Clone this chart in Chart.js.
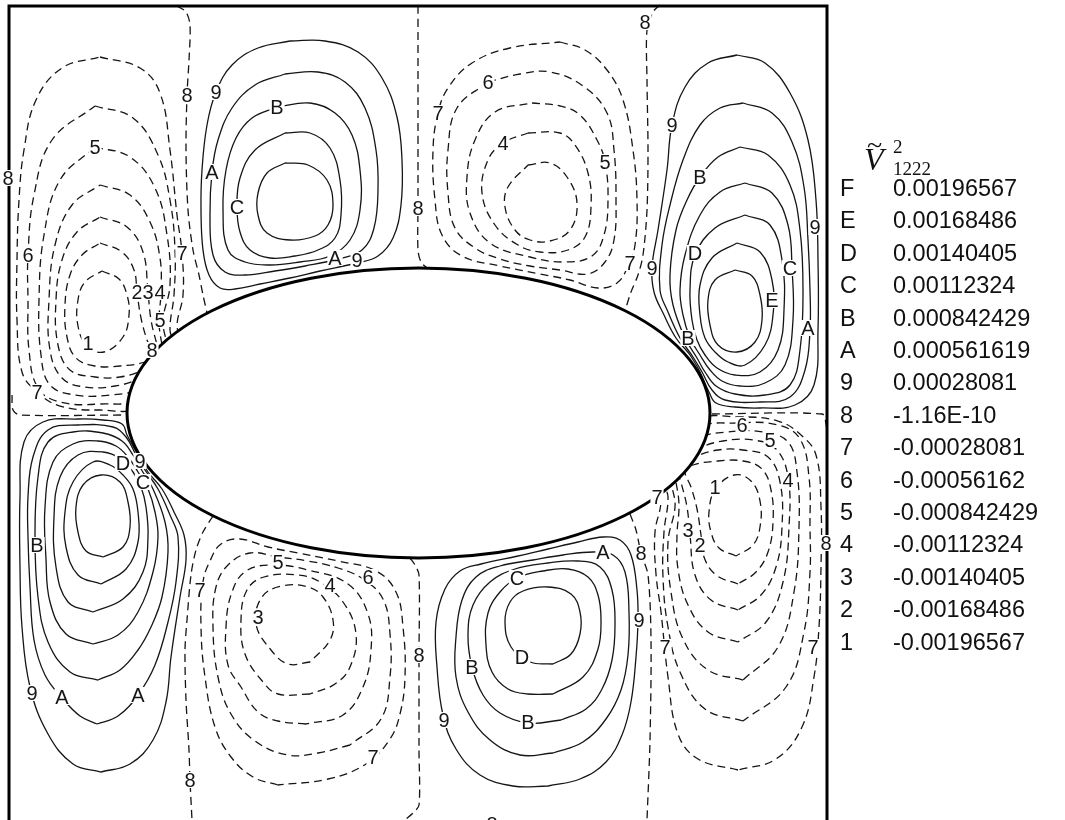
<!DOCTYPE html>
<html>
<head>
<meta charset="utf-8">
<script src="https://cdn.jsdelivr.net/npm/chart.js@4.4.1/dist/chart.umd.min.js"></script>
<style>
  html, body { margin: 0; padding: 0; background: #fff; }
  #wrap { position: relative; width: 1065px; height: 820px; overflow: hidden; background: #fff; }
  #plot { position: absolute; left: 0; top: 0; }
  .key { position: absolute; font-family: "Liberation Sans", Arial, sans-serif; font-size: 23.5px; color: #111; line-height: 24px; white-space: nowrap; }
  .ttl { position: absolute; font-family: "Liberation Serif", "DejaVu Serif", serif; color: #111; line-height: 1; }
</style>
</head>
<body>
<div id="wrap">
  <canvas id="plot" width="1065" height="820"></canvas>
  <div id="legend"></div>
</div>
<script>
// ---- contour levels (key letter/digit and level value) ----
const levelKeys   = ['F','E','D','C','B','A','9','8','7','6','5','4','3','2','1'];
const levelValues = ['0.00196567','0.00168486','0.00140405','0.00112324','0.000842429','0.000561619','0.00028081',
                     '-1.16E-10','-0.00028081','-0.00056162','-0.000842429','-0.00112324','-0.00140405','-0.00168486','-0.00196567'];

// ---- contour paths, grouped by the lobe they belong to (plot coordinates) ----
// upper-left outer lobe, negative levels
const nwOuter = {
  '7': [[100,57],[140,68],[160,93],[170,150],[177,215],[182,253],[183,295],[177,325],[180,345],[140,406],[100,410],[60,406],[37,392],[22,372],[17,320],[17,260],[19,200],[24,150],[36,100],[62,68],[100,57]],
  '6': [[95,106],[133,118],[158,155],[170,200],[175,250],[174,295],[170,330],[175,350],[140,398],[100,404],[60,402],[38,388],[29,350],[28,300],[28,255],[34,195],[52,140],[95,106]],
  '5': [[95,147],[130,157],[155,188],[167,235],[170,285],[163,320],[166,340],[170,355],[140,388],[110,395],[75,395],[50,385],[41,355],[39,300],[44,235],[60,180],[95,147]],
  '4': [[100,185],[130,195],[150,222],[160,258],[161,292],[159,322],[162,345],[165,360],[140,378],[115,386],[85,387],[62,378],[50,350],[49,300],[55,245],[72,205],[100,185]],
  '3': [[100,217],[127,227],[143,252],[148,292],[151,320],[157,345],[160,358],[143,370],[120,377],[95,377],[70,370],[58,345],[56,300],[62,260],[77,232],[100,217]],
  '2': [[100,243],[122,252],[134,270],[137,292],[141,318],[147,340],[153,356],[145,362],[120,366],[95,366],[76,358],[67,337],[65,305],[70,275],[82,255],[100,243]],
  '1': [[102,271],[119,279],[127,295],[129,315],[123,337],[104,352],[87,346],[78,326],[78,300],[85,282],[102,271]]
};
// upper-left inner lobe, positive levels
const nwInner = {
  '9': [[290,41],[325,41],[358,52],[382,78],[397,117],[402,160],[401,205],[393,238],[378,256],[357,263],[320,271],[290,278],[260,284],[235,289],[220,288],[209,275],[203,250],[201,210],[202,170],[207,125],[216,92],[232,65],[258,48],[290,41]],
  'A': [[285,74],[318,72],[345,82],[365,108],[376,150],[378,190],[374,228],[362,250],[338,259],[305,266],[275,271],[245,275],[225,272],[213,255],[210,215],[212,172],[218,140],[232,108],[255,85],[285,74]],
  'B': [[277,107],[310,103],[335,113],[352,135],[360,170],[360,210],[350,240],[330,256],[300,262],[270,265],[245,262],[228,250],[223,210],[226,170],[236,138],[252,118],[277,107]],
  'C': [[285,133],[310,133],[330,148],[340,180],[341,215],[335,238],[318,250],[295,256],[270,258],[250,250],[240,232],[237,207],[240,178],[255,150],[285,133]],
  'D': [[285,163],[308,165],[327,180],[333,205],[328,225],[315,236],[290,240],[267,233],[258,215],[258,193],[267,173],[285,163]]
};
// upper-right inner lobe, negative levels
const neInner = {
  '7': [[560,42],[585,50],[607,70],[623,100],[633,150],[637,200],[635,245],[628,266],[617,283],[598,288],[570,280],[540,274],[500,266],[462,256],[442,235],[435,200],[433,150],[438,113],[448,88],[472,63],[510,48],[560,42]],
  '6': [[488,82],[520,74],[550,72],[583,86],[607,113],[614,150],[616,200],[614,240],[605,262],[588,274],[560,270],[530,266],[500,259],[475,248],[455,228],[448,193],[448,150],[457,108],[488,82]],
  '5': [[532,103],[560,106],[580,115],[597,140],[605,162],[608,200],[604,235],[592,256],[565,262],[530,257],[490,243],[470,213],[467,177],[475,140],[495,112],[532,103]],
  '4': [[528,133],[560,133],[575,145],[588,173],[591,207],[585,237],[568,250],[540,252],[518,245],[495,225],[482,193],[488,160],[503,143],[528,133]],
  '3': [[528,165],[550,163],[567,177],[577,203],[570,230],[550,241],[530,240],[515,230],[505,207],[508,187],[528,165]]
};
// upper-right outer lobe, positive levels
const neOuter = {
  '9': [[737,55],[765,63],[790,93],[808,140],[816,200],[818,260],[818,330],[814,385],[795,405],[760,408],[735,407],[716,403],[709,392],[700,372],[690,355],[676,338],[664,315],[654,292],[652,267],[658,230],[667,170],[672,125],[685,87],[708,63],[737,55]],
  'A': [[743,103],[772,113],[792,142],[804,187],[808,240],[810,290],[810,330],[805,370],[790,397],[760,402],[725,400],[712,390],[702,372],[693,357],[680,338],[668,312],[660,290],[662,245],[670,205],[683,160],[700,125],[720,108],[743,103]],
  'B': [[740,147],[768,155],[790,185],[800,230],[803,290],[800,350],[790,385],[765,395],[735,394],[716,386],[705,372],[697,358],[685,338],[673,305],[670,275],[676,230],[687,200],[700,177],[718,157],[740,147]],
  'C': [[745,183],[772,193],[788,225],[792,268],[793,320],[785,365],[765,383],[740,386],[722,381],[710,370],[700,355],[690,338],[683,315],[680,290],[685,255],[700,215],[720,192],[745,183]],
  'D': [[745,215],[770,225],[782,260],[784,310],[778,350],[760,372],[735,375],[717,368],[705,355],[697,340],[692,320],[690,290],[695,255],[715,228],[745,215]],
  'E': [[737,243],[760,252],[772,280],[773,315],[765,345],[745,365],[728,362],[715,352],[705,338],[700,315],[700,285],[712,258],[737,243]],
  'F': [[735,270],[752,276],[760,295],[762,320],[755,342],[737,352],[718,345],[710,325],[708,300],[715,280],[735,270]]
};
// lower-left outer lobe, positive levels
const swOuter = {
  '9': [[101,772],[73,764],[48,734],[30,687],[22,627],[20,567],[20,497],[24,442],[43,422],[78,419],[103,420],[122,424],[127,435],[138,455],[148,472],[162,489],[174,512],[184,535],[186,560],[180,597],[171,657],[166,702],[153,740],[130,764],[101,772]],
  'A': [[97,724],[80,716],[62,698],[45,675],[34,640],[30,587],[28,537],[28,497],[33,457],[48,430],[78,425],[113,427],[126,437],[136,455],[145,470],[158,489],[170,515],[178,537],[176,582],[168,622],[155,665],[138,695],[118,716],[97,724]],
  'B': [[98,680],[70,672],[48,642],[38,597],[35,537],[38,477],[48,442],[73,432],[103,433],[122,441],[133,455],[141,469],[153,489],[165,522],[168,552],[162,597],[151,627],[138,650],[120,670],[98,680]],
  'C': [[93,644],[66,634],[50,602],[46,559],[45,507],[53,462],[73,444],[98,441],[116,446],[128,457],[138,472],[148,489],[155,512],[158,537],[153,572],[138,612],[118,635],[93,644]],
  'D': [[93,612],[68,602],[56,567],[54,517],[60,477],[78,455],[103,452],[121,459],[133,472],[141,487],[146,507],[148,537],[143,572],[123,599],[93,612]],
  'E': [[101,584],[78,575],[66,547],[65,512],[73,482],[93,462],[110,465],[123,475],[133,489],[138,512],[138,542],[126,569],[101,584]],
  'F': [[103,557],[86,551],[78,532],[76,507],[83,485],[101,475],[120,482],[128,502],[130,527],[123,547],[103,557]]
};
// lower-left inner lobe, negative levels
const swInner = {
  '7': [[278,785],[253,777],[231,757],[215,727],[205,677],[201,627],[203,582],[210,561],[221,544],[240,539],[268,547],[298,553],[338,561],[376,571],[396,592],[403,627],[405,677],[400,714],[390,739],[366,764],[328,779],[278,785]],
  '6': [[350,745],[318,753],[288,755],[255,741],[231,714],[218,677],[213,627],[216,587],[228,565],[250,553],[278,557],[308,561],[338,568],[363,579],[383,599],[390,634],[390,677],[381,719],[350,745]],
  '5': [[306,724],[278,721],[258,712],[241,687],[228,665],[226,627],[232,592],[246,571],[273,565],[308,570],[348,584],[368,614],[371,650],[363,687],[343,715],[306,724]],
  '4': [[310,694],[278,694],[263,682],[245,654],[241,620],[247,590],[264,577],[298,575],[320,582],[343,602],[356,634],[350,667],[335,684],[310,694]],
  '3': [[310,662],[288,664],[271,650],[256,624],[262,597],[282,586],[308,587],[323,597],[333,620],[330,640],[310,662]]
};
// lower-right inner lobe, positive levels
const seInner = {
  '9': [[548,786],[513,786],[480,775],[456,749],[443,715],[437,667],[436,622],[445,589],[460,571],[481,564],[518,556],[548,549],[578,542],[603,537],[620,540],[631,555],[637,590],[638,620],[636,657],[631,702],[622,735],[606,762],[580,779],[548,786]],
  'A': [[553,753],[520,755],[490,740],[468,712],[456,677],[456,637],[462,600],[476,577],[500,566],[533,560],[563,555],[593,552],[613,555],[625,572],[629,612],[628,655],[621,690],[606,719],[583,742],[553,753]],
  'B': [[561,720],[528,723],[500,713],[483,695],[472,667],[468,635],[473,605],[490,582],[515,569],[548,563],[578,561],[600,567],[612,590],[615,625],[612,660],[602,689],[586,709],[561,720]],
  'C': [[553,694],[528,694],[508,689],[492,672],[486,645],[488,613],[500,592],[517,578],[543,571],[568,569],[588,577],[598,595],[601,620],[598,649],[583,677],[553,694]],
  'D': [[553,664],[530,662],[511,647],[505,622],[510,602],[523,591],[548,587],[571,594],[580,612],[580,634],[571,654],[553,664]]
};
// lower-right outer lobe, negative levels
const seOuter = {
  '7': [[738,770],[698,759],[678,734],[668,677],[661,612],[656,574],[655,532],[661,502],[658,482],[698,421],[738,417],[778,421],[801,435],[816,455],[821,507],[821,567],[819,627],[814,677],[802,727],[776,759],[738,770]],
  '6': [[743,721],[705,709],[680,672],[668,627],[663,577],[664,532],[668,497],[663,477],[698,429],[738,423],[778,425],[800,439],[809,477],[810,527],[810,572],[804,632],[786,687],[743,721]],
  '5': [[743,680],[708,670],[683,639],[671,592],[668,542],[675,507],[672,487],[668,472],[698,439],[728,432],[763,432],[788,442],[797,472],[799,527],[794,592],[778,647],[743,680]],
  '4': [[738,642],[708,632],[688,605],[678,569],[677,535],[679,505],[676,482],[673,467],[698,449],[723,441],[753,440],[776,449],[788,477],[789,527],[783,582],[766,622],[738,642]],
  '3': [[738,610],[711,600],[695,575],[690,535],[687,507],[681,482],[678,469],[695,457],[718,450],[743,450],[768,457],[780,482],[782,527],[776,567],[761,595],[738,610]],
  '2': [[738,584],[716,575],[704,557],[701,535],[697,509],[691,487],[685,471],[693,465],[718,461],[743,461],[762,469],[771,490],[773,522],[768,552],[756,572],[738,584]],
  '1': [[736,556],[719,548],[711,532],[709,512],[715,490],[734,475],[751,481],[760,501],[760,527],[753,545],[736,556]]
};
// zero-level (key 8) lines
const zeroLines = [
  [[177,6],[186,12],[190,25],[189,60],[187,95],[186,150],[188,210],[193,250],[199,275],[203,295],[207,313]],
  [[418,6],[418,100],[418,208],[418,250],[421,262],[427,268]],
  [[660,5],[653,12],[647,30],[647,80],[648,150],[647,210],[643,255],[638,275],[631,292],[625,311]],
  [[712,414],[822,414],[826,424],[827,440]],
  [[12,395],[13,410],[20,415],[127,415]],
  [[213,516],[203,532],[196,550],[191,575],[187,620],[185,650],[186,700],[189,750],[190,780],[192,820]],
  [[410,558],[415,565],[419,575],[419,655],[419,750],[419,805],[413,813],[405,820]],
  [[630,514],[636,530],[641,553],[648,575],[651,640],[650,740],[647,820]]
];
// in-line level keys: [text, x, y]
const contourLabels = [
  ['8',8,178],['8',187,95],['5',95,147],['6',28,255],['7',182,253],['2',137,292],['3',148,292],['4',160,292],['5',160,320],['1',88,343],['8',152,350],['7',37,392],
  ['9',216,92],['B',277,107],['A',212,172],['C',237,207],['A',335,258],['9',357,260],
  ['8',418,208],
  ['6',488,82],['7',438,113],['4',503,143],['5',605,162],['7',630,263],
  ['8',645,22],['9',672,125],['B',700,177],['9',815,227],['D',695,253],['C',790,268],['9',652,268],['E',772,300],['A',808,328],['B',688,338],
  ['D',123,463],['9',140,461],['C',143,482],['B',37,545],['9',32,693],['A',62,697],['A',138,695],
  ['5',278,562],['6',368,577],['4',330,585],['7',200,590],['3',258,617],['7',373,757],['8',190,780],
  ['8',419,655],['8',492,824],
  ['A',603,552],['C',517,578],['D',522,657],['B',472,667],['B',528,722],['9',444,720],['9',639,620],
  ['6',742,425],['5',770,440],['4',788,480],['1',715,487],['7',657,497],['3',688,530],['2',700,545],['8',641,553],['8',826,543],['7',665,647],['7',813,647]
];

// elliptical body and the plot frame, in plot coordinates
const BODY = { cx: 418.5, cy: 413, rx: 291.5, ry: 145 };
const FRAME = { left: 9, right: 827, top: 6, bottom: 820 };

// ---- build datasets ----
const INK = '#151515';
const datasets = [];
function addLobe(lobe, dashed) {
  Object.keys(lobe).forEach(k => {
    datasets.push({
      label: k,
      data: lobe[k].map(p => ({ x: p[0], y: p[1] })),
      showLine: true, fill: false, tension: 0.4,
      borderColor: INK, borderWidth: 1.3,
      borderDash: dashed ? [8, 5] : [],
      pointRadius: 0, pointHoverRadius: 0
    });
  });
}
addLobe(nwOuter, true);
addLobe(nwInner, false);
addLobe(neInner, true);
addLobe(neOuter, false);
addLobe(swOuter, false);
addLobe(swInner, true);
addLobe(seInner, false);
addLobe(seOuter, true);
zeroLines.forEach(z => datasets.push({
  label: '8', data: z.map(p => ({ x: p[0], y: p[1] })),
  showLine: true, fill: false, tension: 0.3,
  borderColor: INK, borderWidth: 1.3, borderDash: [8, 5],
  pointRadius: 0, pointHoverRadius: 0
}));

// body, level keys and frame drawn over the contour lines
const overlay = {
  id: 'overlay',
  afterDatasetsDraw(chart) {
    const { ctx } = chart;
    const xs = chart.scales.x, ys = chart.scales.y;
    const px = v => xs.getPixelForValue(v), py = v => ys.getPixelForValue(v);
    ctx.save();
    const cx = px(BODY.cx), cy = py(BODY.cy);
    const rx = Math.abs(px(BODY.cx + BODY.rx) - cx), ry = Math.abs(py(BODY.cy + BODY.ry) - cy);
    ctx.beginPath();
    ctx.ellipse(cx, cy, rx, ry, 0, 0, Math.PI * 2);
    ctx.fillStyle = '#fff';
    ctx.fill();
    ctx.lineWidth = 3;
    ctx.strokeStyle = '#000';
    ctx.stroke();

    ctx.beginPath();
    ctx.moveTo(px(FRAME.left), py(FRAME.bottom));
    ctx.lineTo(px(FRAME.left), py(FRAME.top));
    ctx.lineTo(px(FRAME.right), py(FRAME.top));
    ctx.lineTo(px(FRAME.right), py(FRAME.bottom));
    ctx.lineWidth = 3;
    ctx.stroke();

    ctx.font = '20px "Liberation Sans", Arial, sans-serif';
    ctx.textAlign = 'center';
    ctx.textBaseline = 'middle';
    contourLabels.forEach(([t, lx, ly]) => {
      const x = px(lx), y = py(ly);
      const w = ctx.measureText(t).width;
      ctx.fillStyle = '#fff';
      ctx.fillRect(x - w / 2 - 1, y - 8, w + 2, 16);
      ctx.fillStyle = INK;
      ctx.fillText(t, x, y + 1);
    });
    ctx.restore();
  }
};

new Chart(document.getElementById('plot'), {
  type: 'scatter',
  data: { datasets },
  options: {
    responsive: false, animation: false, devicePixelRatio: 1,
    layout: { padding: 0 },
    scales: {
      x: { type: 'linear', min: 0, max: 1065, display: false },
      y: { type: 'linear', min: 0, max: 820, reverse: true, display: false }
    },
    plugins: { legend: { display: false }, tooltip: { enabled: false } },
    events: []
  },
  plugins: [overlay]
});

// ---- key of levels ----
const legend = document.getElementById('legend');
legend.innerHTML =
  '<span class="ttl" style="left:867px;top:131px;font-size:28px;">~</span>' +
  '<span class="ttl" style="left:864px;top:143px;font-size:32px;font-style:italic;">V</span>' +
  '<span class="ttl" style="left:893px;top:137px;font-size:19px;">2</span>' +
  '<span class="ttl" style="left:893px;top:159px;font-size:19px;">1222</span>';
levelKeys.forEach((k, i) => {
  const top = 176 + i * 32.4;
  legend.insertAdjacentHTML('beforeend',
    '<span class="key" style="left:840px;top:' + top + 'px;">' + k + '</span>' +
    '<span class="key" style="left:893px;top:' + top + 'px;">' + levelValues[i] + '</span>');
});
</script>
</body>
</html>
